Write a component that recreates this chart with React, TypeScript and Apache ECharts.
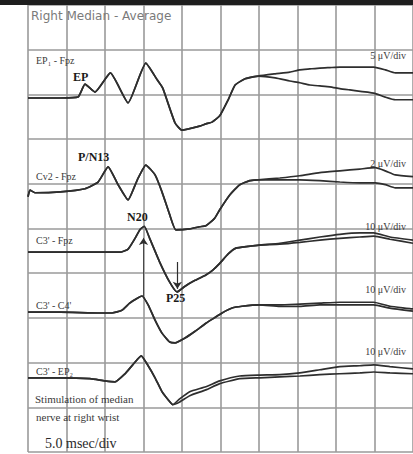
import React, { useEffect, useRef } from "react";
import * as echarts from "echarts";

// ---- Data (time in ms, amplitude in grid divisions relative to channel baseline) ----
const channelLabels = ["EP\u2081 - Fpz", "Cv2 - Fpz", "C3' - Fpz", "C3' - C4'", "C3' - EP\u2082"];
const sensitivities = ["5 \u03bcV/div", "2 \u03bcV/div", "10 \u03bcV/div", "10 \u03bcV/div", "10 \u03bcV/div"];
const channelBaselines = [7.92, 5.82, 4.47, 3.13, 1.66];

const erbTime = [0, 0.9, 4.2, 6.5, 7.4, 8.7, 10.7, 13.0, 15.3, 16.8, 17.5, 19.1, 20.0, 22.3, 23.1, 23.9, 24.9, 26.0, 26.9, 28.2, 29.9, 32.1, 34.0, 35.3, 36.6, 37.9, 39.2, 40.5, 41.8, 44.9, 46.4, 47.7, 50.0];
const erbA = [0, 0, 0, 0.02, 0.31, 0.13, 0.56, -0.11, 0.78, 0.4, 0.22, -0.56, -0.72, -0.63, -0.58, -0.54, -0.4, -0.04, 0.29, 0.43, 0.49, 0.54, 0.58, 0.63, 0.65, 0.67, 0.68, 0.69, 0.69, 0.69, 0.63, 0.56, 0.56];
const erbB = [0, 0, 0, 0.02, 0.31, 0.13, 0.56, -0.11, 0.78, 0.4, 0.22, -0.56, -0.72, -0.63, -0.58, -0.54, -0.4, -0.04, 0.29, 0.43, 0.49, 0.45, 0.38, 0.34, 0.29, 0.27, 0.25, 0.21, 0.18, 0.11, 0.02, -0.04, -0.04];

const cv2Time = [0, 0.26, 0.9, 4.2, 7.4, 9.1, 10.4, 11.7, 13.0, 14.2, 15.3, 16.5, 17.4, 18.4, 19.2, 21.0, 22.3, 23.1, 24.2, 24.9, 26.2, 27.5, 28.8, 29.9, 32.7, 35.3, 37.9, 40.5, 43.1, 45.1, 46.4, 47.7, 50.0];
const cv2A = [-0.11, 0.04, -0.02, 0, 0.07, 0.22, 0.56, 0.16, -0.18, 0.27, 0.6, 0.38, 0, -0.51, -0.85, -0.83, -0.78, -0.76, -0.6, -0.4, -0.07, 0.16, 0.25, 0.27, 0.31, 0.36, 0.43, 0.47, 0.51, 0.54, 0.47, 0.38, 0.34];
const cv2B = [-0.11, 0.04, -0.02, 0, 0.07, 0.22, 0.56, 0.16, -0.18, 0.27, 0.6, 0.38, 0, -0.51, -0.85, -0.83, -0.78, -0.76, -0.6, -0.4, -0.07, 0.16, 0.25, 0.27, 0.27, 0.27, 0.25, 0.22, 0.2, 0.2, 0.16, 0.09, 0.09];

const c3Time = [0, 4.2, 9.35, 11.95, 13.0, 13.9, 14.55, 15.1, 15.8, 17.1, 18.4, 19.35, 20.4, 21.7, 23.1, 24.0, 24.9, 26.0, 27.0, 28.6, 30.0, 32.7, 35.3, 37.9, 40.5, 43.1, 44.9, 47.0, 50.0];
const c3A = [0, 0, 0, 0, 0.07, 0.31, 0.51, 0.58, 0.31, -0.22, -0.67, -0.89, -0.76, -0.63, -0.51, -0.4, -0.25, -0.04, 0.09, 0.13, 0.16, 0.2, 0.27, 0.34, 0.4, 0.43, 0.43, 0.34, 0.27];
const c3B = [0, 0, 0, 0, 0.07, 0.31, 0.51, 0.58, 0.31, -0.22, -0.67, -0.89, -0.76, -0.63, -0.51, -0.4, -0.25, -0.04, 0.09, 0.13, 0.16, 0.18, 0.22, 0.27, 0.31, 0.34, 0.36, 0.29, 0.2];

const c4Time = [0, 4.2, 9.35, 10.9, 12.2, 13.2, 14.2, 14.8, 15.6, 16.5, 17.4, 18.4, 19.1, 20.4, 21.7, 23.1, 24.2, 25.2, 26.5, 27.8, 30.1, 32.7, 35.3, 37.9, 40.5, 43.1, 44.9, 47.0, 50.0];
const c4A = [0, 0, -0.02, -0.02, 0.04, 0.2, 0.31, 0.36, 0.16, -0.18, -0.47, -0.67, -0.69, -0.58, -0.43, -0.25, -0.13, -0.02, 0.09, 0.13, 0.16, 0.16, 0.18, 0.2, 0.22, 0.22, 0.22, 0.13, 0.07];
const c4B = [0, 0, -0.02, -0.02, 0.04, 0.2, 0.31, 0.36, 0.16, -0.18, -0.47, -0.67, -0.69, -0.58, -0.43, -0.25, -0.13, -0.02, 0.09, 0.13, 0.16, 0.13, 0.13, 0.16, 0.16, 0.16, 0.16, 0.09, 0.02];

const c5Time = [0, 4.2, 8.05, 10.0, 11.3, 12.6, 13.6, 14.7, 15.6, 16.5, 17.4, 18.2, 18.8, 19.7, 21.0, 23.1, 24.9, 27.5, 30.1, 32.7, 35.3, 37.9, 40.5, 43.1, 44.9, 47.0, 50.0];
const c5A = [0, 0, -0.02, -0.07, -0.09, 0.09, 0.29, 0.49, 0.27, 0, -0.31, -0.49, -0.6, -0.47, -0.31, -0.2, -0.07, 0.04, 0.06, 0.07, 0.11, 0.18, 0.25, 0.27, 0.29, 0.25, 0.2];
const c5B = [0, 0, -0.02, -0.07, -0.09, 0.09, 0.29, 0.49, 0.27, 0, -0.31, -0.49, -0.6, -0.54, -0.4, -0.27, -0.13, -0.02, 0, 0.02, 0.04, 0.07, 0.09, 0.11, 0.13, 0.11, 0.09];

const channelTimes = [erbTime, cv2Time, c3Time, c4Time, c5Time];
const channelTraces = [[erbA, erbB], [cv2A, cv2B], [c3A, c3B], [c4A, c4B], [c5A, c5B]];

// Peak markers: [time ms, from div, to div]
const n20Arrow = [15.0, 4.79, 3.49];
const p25Arrow = [19.4, 4.25, 3.65];

const xTicks = { min: 0, max: 50, interval: 5 };
const yTicks = { min: 0, max: 10, interval: 1 };

const SERIF = '"Liberation Serif", "DejaVu Serif", serif';
const INK = "#2e2e2e";

export default function App() {
  const ref = useRef<HTMLDivElement>(null);

  useEffect(() => {
    document.body.style.margin = "0";
    const chart = echarts.init(ref.current!, null, { renderer: "svg" });

    const series: any[] = [];
    channelTraces.forEach((pair, ci) => {
      pair.forEach((vals, ti) => {
        const s: any = {
          type: "line",
          name: `${channelLabels[ci]} ${ti + 1}`,
          data: channelTimes[ci].map((t, i) => [t, channelBaselines[ci] + vals[i]]),
          showSymbol: false,
          smooth: 0.15,
          lineStyle: { color: INK, width: 1.7 },
          z: 5,
        };
        if (ci === 2 && ti === 0) {
          s.markLine = {
            silent: true,
            symbol: ["arrow", "none"],
            symbolSize: 7,
            label: { show: false },
            lineStyle: { color: INK, width: 0.8, type: "solid" },
            data: [[{ coord: [n20Arrow[0], n20Arrow[1]] }, { coord: [n20Arrow[0], n20Arrow[2]] }]],
          };
        }
        if (ci === 2 && ti === 1) {
          s.markLine = {
            silent: true,
            symbol: ["none", "arrow"],
            symbolSize: 7,
            label: { show: false },
            lineStyle: { color: INK, width: 1.2, type: "solid" },
            data: [[{ coord: [p25Arrow[0], p25Arrow[1]] }, { coord: [p25Arrow[0], p25Arrow[2]] }]],
          };
        }
        series.push(s);
      });
    });

    const txt = (text: string, x: number, y: number, font: string, fill = "#3a3a3a", align = "left") => ({
      type: "text",
      x,
      y,
      z: 20,
      style: { text, font, fill, align, verticalAlign: "middle" },
    });

    const labelYs = [60, 176, 240, 305, 371];
    const sensYs = [55, 163, 226, 289, 351];

    const graphic: any[] = [
      { type: "rect", shape: { x: 0, y: 0, width: 413, height: 5 }, style: { fill: "#1e1e1e" }, z: 30 },
      txt("Right Median - Average", 31, 16, '12px "DejaVu Sans", sans-serif', "#7a7a7a"),
      ...channelLabels.map((l, i) => txt(l, 36, labelYs[i], `10px ${SERIF}`, "#3a3a3a")),
      ...sensitivities.map((l, i) => txt(l, 406, sensYs[i], `10px ${SERIF}`, "#3a3a3a", "right")),
      txt("EP", 73, 77, `bold 12px ${SERIF}`, "#1a1a1a"),
      txt("P/N13", 78, 157, `bold 12px ${SERIF}`, "#1a1a1a"),
      txt("N20", 127, 217, `bold 12px ${SERIF}`, "#1a1a1a"),
      txt("P25", 166, 298, `bold 12px ${SERIF}`, "#1a1a1a"),
      txt("Stimulation of median", 35, 399, `11px ${SERIF}`, "#3a3a3a"),
      txt("nerve at right wrist", 36, 417, `11px ${SERIF}`, "#3a3a3a"),
      txt("5.0 msec/div", 45, 443, `14px ${SERIF}`, "#2a2a2a"),
    ];

    const option: any = {
      animation: false,
      backgroundColor: "#ffffff",
      grid: { left: 28, right: 0, top: 5, bottom: 2, containLabel: false },
      xAxis: {
        type: "value",
        ...xTicks,
        axisLine: { show: false },
        axisTick: { show: false },
        axisLabel: { show: false },
        splitLine: { show: true, lineStyle: { color: "#9a9a9a", width: 1.6 } },
      },
      yAxis: {
        type: "value",
        ...yTicks,
        axisLine: { show: false },
        axisTick: { show: false },
        axisLabel: { show: false },
        splitLine: { show: true, lineStyle: { color: "#9a9a9a", width: 1.6 } },
      },
      series,
      graphic,
    };

    chart.setOption(option);
    return () => chart.dispose();
  }, []);

  return <div ref={ref} style={{ width: 413, height: 454, background: "#fff" }} />;
}
